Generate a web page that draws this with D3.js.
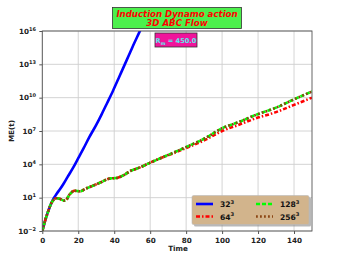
<!DOCTYPE html>
<html><head><meta charset="utf-8">
<script src="https://cdn.jsdelivr.net/npm/d3@7"></script>
<style>body{margin:0;background:#fff}svg{display:block}text{font-family:"DejaVu Sans",sans-serif;font-weight:bold}</style>
</head><body><svg id="c" width="346" height="259"></svg>
<script>
// Data: time and log10(ME) for each resolution
const t32   = [0,1,2,3,4,5,6,7,8,10,12,14,17,20,23,26,30,33,36,39.4,43,47,50,54,56];
const e32   = [-2,-1.4,-0.85,-0.35,0.1,0.5,0.85,1.1,1.35,1.8,2.3,2.85,3.65,4.55,5.45,6.4,7.55,8.5,9.5,10.65,11.95,13.4,14.5,15.9,16.6];
const tRes  = [0,1,2,3,4,5,6,8,10,12,13,15,18,21,24,27,32,37,42,45,49,54,60,65,73,82,90,100,110,118,130,140,150];
const e64   = [-2,-1.4,-0.85,-0.35,0.1,0.5,0.75,0.95,0.88,0.73,0.75,1.25,1.62,1.57,1.8,2.0,2.34,2.7,2.8,3.0,3.4,3.7,4.15,4.5,5.0,5.6,6.15,7.0,7.6,8.1,8.7,9.35,10.0];
const e128  = [-2,-1.4,-0.85,-0.35,0.1,0.5,0.75,0.95,0.88,0.73,0.75,1.25,1.62,1.57,1.8,2.0,2.34,2.7,2.8,3.0,3.4,3.7,4.15,4.5,5.05,5.7,6.3,7.25,7.85,8.4,9.1,9.85,10.55];
const e256  = [-2,-1.4,-0.85,-0.35,0.1,0.5,0.75,0.95,0.88,0.73,0.75,1.25,1.62,1.57,1.8,2.0,2.34,2.7,2.8,3.0,3.4,3.7,4.15,4.5,5.05,5.7,6.3,7.25,7.85,8.4,9.1,9.85,10.55];
const xTicks = [0,20,40,60,80,100,120,140];
const yTickExp = [-2,1,4,7,10,13,16];
const labels = ["32","64","128","256"];

const svg = d3.select("#c");
const L=42.3,R=312,T=31,B=231;
const x = d3.scaleLinear().domain([0,150]).range([L,R]);
const y = d3.scaleLog().domain([1e-2,1e16]).range([B,T]);

// grid
const g = svg.append("g");
g.selectAll(".vg").data(xTicks).join("line").attr("x1",d=>x(d)).attr("x2",d=>x(d)).attr("y1",T).attr("y2",B).attr("stroke","#cfcfcf").attr("stroke-width",0.9);
g.selectAll(".hg").data(yTickExp).join("line").attr("y1",d=>y(Math.pow(10,d))).attr("y2",d=>y(Math.pow(10,d))).attr("x1",L).attr("x2",R).attr("stroke","#cfcfcf").attr("stroke-width",0.9);

svg.append("clipPath").attr("id","clp").append("rect").attr("x",L).attr("y",T).attr("width",R-L).attr("height",B-T);
const line = d3.line().curve(d3.curveMonotoneX).x(d=>x(d[0])).y(d=>y(Math.pow(10,d[1])));
const series = [
  {t:t32,e:e32,c:"#0000ff",dash:null},
  {t:tRes,e:e64,c:"#ff0000",dash:"4,2,1.5,2"},
  {t:tRes,e:e128,c:"#00ff00",dash:"4,2"},
  {t:tRes,e:e256,c:"#8b4513",dash:"1.8,2.2"}
];
const pl = svg.append("g").attr("clip-path","url(#clp)");
series.forEach(s=>{
  pl.append("path").datum(s.t.map((v,i)=>[v,s.e[i]])).attr("d",line).attr("fill","none").attr("stroke",s.c).attr("stroke-width",2.6).attr("stroke-dasharray",s.dash);
});

// axes frame
svg.append("rect").attr("x",L).attr("y",T).attr("width",R-L).attr("height",B-T).attr("fill","none").attr("stroke","#555").attr("stroke-width",0.9);
const xa = svg.append("g").attr("transform",`translate(0,${B})`).call(d3.axisBottom(x).tickValues(xTicks).tickSize(3).tickFormat(d3.format("d")));
xa.select(".domain").remove();
xa.selectAll("line").attr("stroke","#555");
xa.selectAll("text").attr("font-size",7.2).attr("fill","#222").attr("dy","0.9em");
const ya = svg.append("g").attr("transform",`translate(${L},0)`).call(d3.axisLeft(y).tickValues(yTickExp.map(e=>Math.pow(10,e))).tickSize(3).tickFormat(""));
ya.select(".domain").remove();
ya.selectAll("line").attr("stroke","#555");
yTickExp.forEach(e=>{
  const tx = svg.append("text").attr("x",36).attr("y",y(Math.pow(10,e))+2.5).attr("text-anchor","end").attr("font-size",7.2).attr("fill","#222");
  tx.append("tspan").text("10");
  tx.append("tspan").attr("dy",-3).attr("font-size",5).text(e<0?"\u2212"+(-e):String(e));
});
svg.append("text").attr("x",178).attr("y",251).attr("text-anchor","middle").attr("font-size",7.2).attr("fill","#222").text("Time");
svg.append("text").attr("transform","translate(14,131) rotate(-90)").attr("text-anchor","middle").attr("font-size",7.2).attr("fill","#222").text("ME(t)");

// title box
svg.append("rect").attr("x",112.5).attr("y",7.5).attr("width",129).attr("height",21).attr("fill","#4cf04c").attr("stroke","#333").attr("stroke-width",0.8);
svg.append("text").attr("x",177).attr("y",16.5).attr("text-anchor","middle").attr("font-size",8.6).attr("font-style","italic").attr("fill","#ff0000").text("Induction Dynamo action");
svg.append("text").attr("x",177).attr("y",26).attr("text-anchor","middle").attr("font-size",8.6).attr("font-style","italic").attr("fill","#ff0000").text("3D ABC Flow");

// Rm box
svg.append("rect").attr("x",155).attr("y",33).attr("width",42).attr("height",14).attr("fill","#f0149b").attr("stroke","#333").attr("stroke-width",0.8);
const rt = svg.append("text").attr("x",176).attr("y",43).attr("text-anchor","middle").attr("font-size",6.6).attr("fill","#55eeee");
rt.append("tspan").text("R");
rt.append("tspan").attr("dy",1.8).attr("font-size",4.6).text("m");
rt.append("tspan").attr("dy",-1.8).text(" = 450.0");

// legend
const lg = svg.append("g");
lg.append("rect").attr("x",194).attr("y",197.5).attr("width",117).attr("height",29).attr("rx",1.5).attr("fill","#888").attr("opacity",0.6);
lg.append("rect").attr("x",192).attr("y",195.5).attr("width",117).attr("height",29).attr("rx",1.5).attr("fill","#d2b48c").attr("stroke","#bbb").attr("stroke-width",0.6);
const pos = [[196,204],[196,216.5],[256,204],[256,216.5]];
series.forEach((s,i)=>{
  const [px,py]=pos[i];
  lg.append("line").attr("x1",px).attr("x2",px+17).attr("y1",py).attr("y2",py).attr("stroke",s.c).attr("stroke-width",2.6).attr("stroke-dasharray",s.dash);
  const tx = lg.append("text").attr("x",px+24).attr("y",py+3).attr("font-size",7.6).attr("fill","#111");
  tx.append("tspan").text(labels[i]);
  tx.append("tspan").attr("dy",-3.2).attr("font-size",5.2).text("3");
});
</script></body></html>
